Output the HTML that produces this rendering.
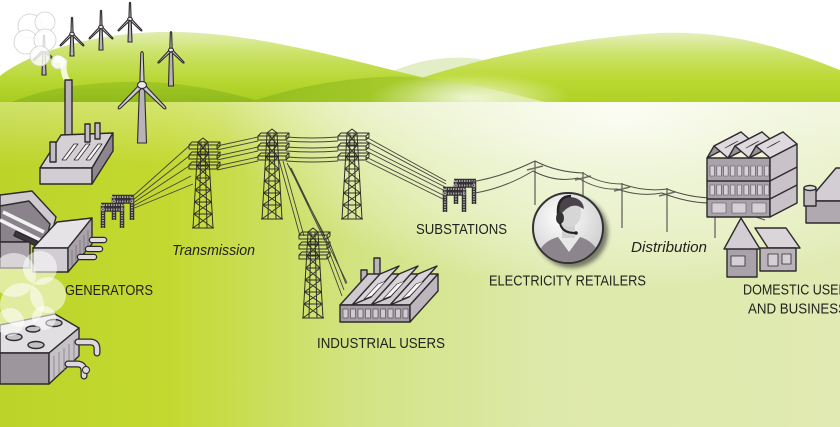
<!DOCTYPE html>
<html><head><meta charset="utf-8"><style>
html,body{margin:0;padding:0;background:#fff;width:840px;height:427px;overflow:hidden}
svg{display:block}
.lb{font-family:"Liberation Sans",Arial,sans-serif;font-size:14.5px;fill:#22221e}
.it{font-style:italic}
</style></head><body>
<svg width="840" height="427" viewBox="0 0 840 427" xmlns="http://www.w3.org/2000/svg" xmlns:xlink="http://www.w3.org/1999/xlink">
<defs>
 <linearGradient id="gnd" gradientUnits="userSpaceOnUse" x1="0" y1="0" x2="840" y2="0">
  <stop offset="0" stop-color="#bcd42a"/>
  <stop offset="0.2" stop-color="#c3d930"/>
  <stop offset="0.42" stop-color="#d2e382"/>
  <stop offset="0.65" stop-color="#dde9aa"/>
  <stop offset="1" stop-color="#e0eab2"/>
 </linearGradient>
 <radialGradient id="glow" gradientUnits="userSpaceOnUse" cx="620" cy="110" r="400" gradientTransform="matrix(1 0 0 0.45 0 60.5)">
  <stop offset="0" stop-color="#fafcf0" stop-opacity="1"/>
  <stop offset="0.45" stop-color="#f2f7e0" stop-opacity="0.75"/>
  <stop offset="1" stop-color="#ffffff" stop-opacity="0"/>
 </radialGradient>
 <linearGradient id="tf" gradientUnits="userSpaceOnUse" x1="0" y1="102" x2="0" y2="165">
  <stop offset="0" stop-color="#ffffff" stop-opacity="0.3"/>
  <stop offset="1" stop-color="#ffffff" stop-opacity="0"/>
 </linearGradient>
 <linearGradient id="hl" gradientUnits="userSpaceOnUse" x1="0" y1="30" x2="0" y2="102">
  <stop offset="0" stop-color="#e2eeb6"/>
  <stop offset="0.3" stop-color="#cde36c"/>
  <stop offset="0.7" stop-color="#b8d732"/>
  <stop offset="1" stop-color="#a8cc20"/>
 </linearGradient>
 <linearGradient id="hr" gradientUnits="userSpaceOnUse" x1="0" y1="33" x2="0" y2="102">
  <stop offset="0" stop-color="#e4efbc"/>
  <stop offset="0.3" stop-color="#cde36c"/>
  <stop offset="0.65" stop-color="#bcd934"/>
  <stop offset="1" stop-color="#afd126"/>
 </linearGradient>
 <linearGradient id="hd1" gradientUnits="userSpaceOnUse" x1="0" y1="80" x2="0" y2="102">
  <stop offset="0" stop-color="#a3c825"/>
  <stop offset="1" stop-color="#8fbb1c"/>
 </linearGradient>
 <linearGradient id="hd2" gradientUnits="userSpaceOnUse" x1="250" y1="0" x2="545" y2="0">
  <stop offset="0" stop-color="#93be1e"/>
  <stop offset="0.55" stop-color="#a8cc2c"/>
  <stop offset="1" stop-color="#d6e88e"/>
 </linearGradient>
 <radialGradient id="vg" gradientUnits="userSpaceOnUse" cx="470" cy="98" r="100" gradientTransform="matrix(1 0 0 0.25 0 73.5)">
  <stop offset="0" stop-color="#ffffff" stop-opacity="0.75"/>
  <stop offset="1" stop-color="#ffffff" stop-opacity="0"/>
 </radialGradient>
 <radialGradient id="cg" cx="0.4" cy="0.35" r="0.7">
  <stop offset="0" stop-color="#ffffff"/>
  <stop offset="1" stop-color="#cdcdcd"/>
 </radialGradient>
 <filter id="bl" x="-20%" y="-20%" width="140%" height="140%"><feGaussianBlur stdDeviation="2"/></filter>
 <clipPath id="cc"><circle cx="568" cy="228" r="34"/></clipPath>

 <g id="tw" fill="none" stroke="#2f2f28" stroke-width="1" stroke-linejoin="round">
  <path d="M-5,0 L-10,86 M5,0 L10,86 M-2,0 L-4,86 M2,0 L4,86 M-5,0 L0,-4 L5,0
  M-5,0 L5.7,12 M5,0 L-5.7,12 M-5.7,12 L6.4,24 M5.7,12 L-6.4,24 M-6.4,24 L7.1,36 M6.4,24 L-7.1,36 M-7.1,36 L7.8,48 M7.1,36 L-7.8,48 M-7.8,48 L8.5,60 M7.8,48 L-8.5,60 M-8.5,60 L9.2,72 M8.5,60 L-9.2,72 M-9.2,72 L10,86 M9.2,72 L-10,86
  M-5.7,12H5.7 M-6.4,24H6.4 M-7.1,36H7.1 M-7.8,48H7.8 M-8.5,60H8.5 M-9.2,72H9.2 M-11,86H11
  M-14,3H14V7H-14Z M-14,3L-11,0H17L14,3 M17,0V4L14,7
  M-14,13H14V17H-14Z M-14,13L-11,10H17L14,13 M17,10V14L14,17
  M-14,23H14V27H-14Z M-14,23L-11,20H17L14,23 M17,20V24L14,27"/>
 </g>

 <g id="rot" stroke="#2d2a2d" stroke-width="1.1" fill="#cdc8cd" stroke-linejoin="round">
  <path vector-effect="non-scaling-stroke" d="M-2.2,0 L-1.2,-32 Q0,-35 1.2,-32 L2.2,0 Z"/>
  <path vector-effect="non-scaling-stroke" transform="rotate(135)" d="M-2.2,0 L-1.2,-32 Q0,-35 1.2,-32 L2.2,0 Z"/>
  <path vector-effect="non-scaling-stroke" transform="rotate(225)" d="M-2.2,0 L-1.2,-32 Q0,-35 1.2,-32 L2.2,0 Z"/>
  <ellipse vector-effect="non-scaling-stroke" rx="4.5" ry="3.5" fill="#ebe9eb"/>
 </g>

 <g id="sub" fill="none">
  <path d="M11,3 H33 M11,7.5 H33 M13,3 V26 M31,3 V26" stroke="#343134" stroke-width="4.5"/>
  <path d="M11,3 H33 M11,7.5 H33 M13,3 V26 M31,3 V26" stroke="#aaa5aa" stroke-width="2" stroke-dasharray="1.3 1.2"/>
  <path d="M0,11 H23 M0,15.5 H23 M2,11 V34 M21,11 V34" stroke="#343134" stroke-width="4.5"/>
  <path d="M0,11 H23 M0,15.5 H23 M2,11 V34 M21,11 V34" stroke="#aaa5aa" stroke-width="2" stroke-dasharray="1.3 1.2"/>
 </g>
</defs>

<!-- sky & ground -->
<rect width="840" height="427" fill="#ffffff"/>
<rect y="102" width="840" height="325" fill="url(#gnd)"/>
<rect y="102" width="840" height="325" fill="url(#glow)"/>
<rect y="102" width="840" height="70" fill="url(#tf)"/>

<!-- hills -->
<path d="M385,75 C410,62 440,56 470,58 C490,60 505,66 520,72 L520,102 L385,102 Z" fill="#e3eec6"/>
<path d="M415,80 C470,62 560,38 660,33 C720,31 770,42 840,70 L840,102 L415,102 Z" fill="url(#hr)"/>
<path d="M0,76 C30,52 100,30 180,32 C250,34 320,52 400,72 C450,84 500,95 545,102 L0,102 Z" fill="url(#hl)"/>
<path d="M12,102 C35,92 70,84 120,82 C170,80 215,88 262,102 Z" fill="url(#hd1)"/>
<path d="M250,102 C285,90 330,80 380,77 C430,74 480,86 545,102 Z" fill="url(#hd2)"/>
<rect x="360" y="70" width="220" height="32" fill="url(#vg)"/>

<!-- wind turbines -->
<g stroke="#2d2a2d" stroke-width="1.1" fill="#b9b3b9">
 <polygon points="42.8,51 45.2,51 46,75 42,75"/>
 <polygon points="70.8,35 73.2,35 74,56 70,56"/>
 <polygon points="99.8,28 102.2,28 103,50 99,50"/>
 <polygon points="128.8,20 131.2,20 132,42 128,42"/>
 <polygon points="169.5,51 172.5,51 173.5,86 168.5,86"/>
 <polygon points="139.5,86 144.5,86 146.5,143 137.5,143"/>
</g>
<use xlink:href="#rot" href="#rot" transform="translate(44,50) scale(0.45)"/>
<use xlink:href="#rot" href="#rot" transform="translate(72,34) scale(0.5)"/>
<use xlink:href="#rot" href="#rot" transform="translate(101,27) scale(0.5)"/>
<use xlink:href="#rot" href="#rot" transform="translate(130,19) scale(0.5)"/>
<use xlink:href="#rot" href="#rot" transform="translate(171,50) scale(0.55)"/>
<use xlink:href="#rot" href="#rot" transform="translate(142,85) scale(1)"/>

<!-- smoke cloud top -->
<g fill="#ffffff" fill-opacity="0.82" stroke="#cfcfcf" stroke-width="0.8">
 <circle cx="30" cy="26" r="12"/><circle cx="45" cy="22" r="10"/><circle cx="26" cy="42" r="12"/>
 <circle cx="45" cy="40" r="11"/><circle cx="40" cy="56" r="10"/><circle cx="58" cy="62" r="7"/>
</g>
<path d="M68,82 Q62,72 64,62 Q60,58 56,60" stroke="#ffffff" stroke-width="6" fill="none" stroke-opacity="0.8" stroke-linecap="round"/>

<!-- top factory -->
<g stroke="#2d2a2d" stroke-width="1.4" stroke-linejoin="round">
 <rect x="65" y="80" width="7" height="70" fill="#b8b2b8"/>
 <polygon points="40,168 61,135 113,133 92,168" fill="#d4d0d4"/>
 <polygon points="40,168 92,168 92,184 40,184" fill="#d2cdd2"/>
 <polygon points="92,168 113,133 113,151 92,184" fill="#8e868e"/>
 <polygon points="62,160 74,144 78,144 66,160" fill="#f6f6f6" stroke-width="0.8"/>
 <polygon points="74,160 86,144 90,144 78,160" fill="#f6f6f6" stroke-width="0.8"/>
 <polygon points="86,160 98,144 102,144 90,160" fill="#f6f6f6" stroke-width="0.8"/>
 <rect x="50" y="142" width="6" height="20" fill="#c3bdc3"/>
 <rect x="85" y="124" width="5" height="18" fill="#c3bdc3"/>
 <rect x="95" y="123" width="5" height="16" fill="#c3bdc3"/>
</g>

<!-- big generator (upper-left) -->
<g stroke="#2d2a2d" stroke-width="1.4" stroke-linejoin="round">
 <polygon points="0,195 32,191 56,217 50,240 0,240" fill="#cfcacf"/>
 <polygon points="0,206 29,201 50,224 46,242 0,242" fill="#8b838b"/>
 <path d="M3,212 L44,232 M0,220 L40,240" stroke="#f2f2f2" stroke-width="3.5"/>
 <rect x="14" y="236" width="24" height="5" fill="#3a363a" transform="rotate(25 26 238)"/>
 <polygon points="0,242 30,242 30,268 0,268" fill="#a8a1a8"/>
 <polygon points="33,248 57,222 92,218 68,248" fill="#e6e3e6"/>
 <polygon points="33,248 68,248 68,272 33,272" fill="#d2cdd2"/>
 <polygon points="68,248 92,218 92,244 68,272" fill="#aaa3aa"/>
 <path d="M72,250 V266 M76,245 V262 M80,240 V258 M84,235 V253 M88,230 V248" stroke="#7a727a" stroke-width="0.8"/>
 <path d="M92,240 H104 M88,249 H100 M80,257 H94" stroke="#2d2a2d" stroke-width="6.5" stroke-linecap="round"/>
 <path d="M92,240 H104 M88,249 H100 M80,257 H94" stroke="#dedade" stroke-width="4" stroke-linecap="round"/>
</g>

<!-- bottom generator -->
<g stroke="#2d2a2d" stroke-width="1.4" stroke-linejoin="round">
 <polygon points="0,325 55,314 79,328 49,353 0,353" fill="#e2dfe2"/>
 <polygon points="0,353 49,353 49,384 0,384" fill="#9d969d"/>
 <polygon points="49,353 79,328 79,356 49,384" fill="#c6c1c6"/>
 <path d="M54,356 V378 M59,352 V374 M64,348 V370 M69,344 V366 M74,340 V361" stroke="#837b83" stroke-width="0.8"/>
 <ellipse cx="14" cy="337" rx="8" ry="3.5" fill="#c4bfc4"/>
 <ellipse cx="36" cy="345" rx="8" ry="3.5" fill="#c4bfc4"/>
 <ellipse cx="54" cy="323" rx="8" ry="3.5" fill="#c4bfc4"/>
 <ellipse cx="33" cy="329" rx="7" ry="3" fill="#c4bfc4"/>
 <path d="M78,342 H90 Q97,342 97,349 V353 M68,364 H77 Q84,364 84,371 V376" stroke="#2d2a2d" stroke-width="7" fill="none" stroke-linecap="round"/>
 <path d="M78,342 H90 Q97,342 97,349 V353 M68,364 H77 Q84,364 84,371 V376" stroke="#dcd8dc" stroke-width="4.5" fill="none" stroke-linecap="round"/>
 <circle cx="86" cy="370" r="3.5" fill="#dcd8dc" stroke-width="1"/>
</g>

<!-- smoke bottom-left -->
<g fill="#ffffff" fill-opacity="0.55">
 <circle cx="14" cy="275" r="22"/><circle cx="40" cy="268" r="17"/><circle cx="48" cy="295" r="18"/>
 <circle cx="22" cy="305" r="22"/><circle cx="10" cy="322" r="14"/><circle cx="44" cy="318" r="12"/>
</g>

<!-- substations -->
<use xlink:href="#sub" href="#sub" x="101" y="194"/>
<use xlink:href="#sub" href="#sub" x="443" y="178"/>

<!-- transmission wires -->
<g fill="none" stroke="#44443b" stroke-width="0.9">
 <path d="M132,197 L189,146 M133,200 L189,156 M133,203 L189,166 M133,206 L191,176 M132,209 L193,184"/>
 <path d="M217,146 L258,137 M217,150 L258,141 M217,156 L258,147 M217,160 L258,151 M217,166 L258,157 M217,170 L258,161"/>
 <path d="M286,137 Q312,139 338,137 M286,141 Q312,143 338,141 M286,147 Q312,149 338,147 M286,151 Q312,153 338,151 M286,157 Q312,159 338,157 M286,161 Q312,163 338,161"/>
 <path d="M366,137 L446,181 M366,141 L446,184 M366,147 L447,188 M366,151 L447,192 M366,157 L447,197 M366,161 L447,201"/>
 <path d="M279,160 L300,236 M283,161 L304,236 M287,163 L325,236 M289,166 L327,245 M291,168 L347,283"/>
 <path d="M327,236 L346,284 M327,246 L344,290 M327,256 L342,296"/>
</g>

<!-- towers -->
<use xlink:href="#tw" href="#tw" x="203" y="142"/>
<use xlink:href="#tw" href="#tw" x="272" y="133"/>
<use xlink:href="#tw" href="#tw" x="352" y="133"/>
<use xlink:href="#tw" href="#tw" x="313" y="232"/>

<!-- industrial factory -->
<g stroke="#2d2a2d" stroke-width="1.4" stroke-linejoin="round">
 <rect x="361" y="270" width="6" height="30" fill="#bbb5bb"/>
 <rect x="374" y="258" width="6" height="38" fill="#bbb5bb"/>
 <polygon points="340,305 410,305 438,274 368,274" fill="#cfcacf"/>
 <polygon points="352,305 371,297 399,266 380,274" fill="#d8d4d8"/>
 <polygon points="371,305 390,297 418,266 399,274" fill="#d8d4d8"/>
 <polygon points="390,305 409,297 437,266 418,274" fill="#d8d4d8"/>
 <polygon points="364,299 372,296 386,281 378,284" fill="#f7f7f7" stroke-width="0.6"/>
 <polygon points="383,299 391,296 405,281 397,284" fill="#f7f7f7" stroke-width="0.6"/>
 <polygon points="402,299 410,296 424,281 416,284" fill="#f7f7f7" stroke-width="0.6"/>
 <polygon points="340,305 410,305 410,322 340,322" fill="#a59da5"/>
 <polygon points="410,305 438,274 438,291 410,322" fill="#bdb7bd"/>
 <g fill="#d0cbd0" stroke="#5a545a" stroke-width="0.7">
  <rect x="343" y="309" width="5" height="9"/><rect x="350.5" y="309" width="5" height="9"/><rect x="358" y="309" width="5" height="9"/>
  <rect x="365.5" y="309" width="5" height="9"/><rect x="373" y="309" width="5" height="9"/><rect x="380.5" y="309" width="5" height="9"/>
  <rect x="388" y="309" width="5" height="9"/><rect x="395.5" y="309" width="5" height="9"/><rect x="403" y="309" width="5" height="9"/>
 </g>
</g>

<!-- distribution -->
<g stroke="#707068" stroke-width="1.4" fill="none">
 <path d="M535,161 V205 M583,172 V215 M622,183 V228 M667,188 V232 M715,197 V238"/>
 <path d="M527,170 L543,166 M575,180 L591,176 M614,191 L630,187 M659,196 L675,192 M707,205 L723,201" stroke-width="1.6"/>
</g>
<g stroke="#4f4f47" stroke-width="1" fill="none">
 <path d="M470,182 Q500,178 535,161 Q556,172 583,173 Q600,184 622,184 Q645,192 667,189 Q690,198 715,198 Q735,203 760,212"/>
 <path d="M475,193 Q505,188 533,171 Q556,183 578,178 Q598,190 617,189 Q640,197 662,193 Q688,203 710,203 Q735,210 765,220"/>
</g>

<!-- retailer circle -->
<circle cx="572" cy="232" r="36" fill="#2e2e2e" fill-opacity="0.6" filter="url(#bl)"/>
<circle cx="568" cy="228" r="35" fill="url(#cg)" stroke="#333" stroke-width="2"/>
<g clip-path="url(#cc)">
 <path d="M534,266 Q538,242 558,237 L580,237 Q598,242 604,266 Z" fill="#8d858d"/>
 <polygon points="558,237 569,252 580,237" fill="#e8e8e8"/>
 <rect x="562" y="224" width="13" height="14" fill="#cfcfcf"/>
 <ellipse cx="570" cy="213" rx="11" ry="14" fill="#d6d6d6"/>
 <path d="M558,216 Q555,198 570,197 Q583,198 584,209 L578,206 Q570,204 563,212 Z" fill="#4a444a"/>
 <path d="M558,214 Q557,196 571,196" stroke="#222" stroke-width="2.5" fill="none"/>
 <ellipse cx="560" cy="218" rx="4" ry="6" fill="#333"/>
 <path d="M560,223 Q562,233 575,233" stroke="#222" stroke-width="2" fill="none"/>
 <circle cx="576" cy="233" r="1.8" fill="#222"/>
</g>

<!-- apartment block -->
<g stroke="#2d2a2d" stroke-width="1.4" stroke-linejoin="round">
 <polygon points="707,158 770,158 770,217 707,217" fill="#aaa2aa"/>
 <polygon points="770,158 797,144 797,203 770,217" fill="#c9c3c9"/>
 <polygon points="707,158 714,146 741,132 734,144" fill="#9a929a"/>
 <polygon points="714,146 728,158 755,144 741,132" fill="#dedade"/>
 <polygon points="728,158 735,146 762,132 755,144" fill="#9a929a"/>
 <polygon points="735,146 749,158 776,144 762,132" fill="#dedade"/>
 <polygon points="749,158 756,146 783,132 776,144" fill="#9a929a"/>
 <polygon points="756,146 770,158 797,144 783,132" fill="#dedade"/>
 <polygon points="725,148 731,145 738,141 732,144" fill="#fafafa" stroke-width="0.6"/>
 <polygon points="746,148 752,145 759,141 753,144" fill="#fafafa" stroke-width="0.6"/>
 <polygon points="767,148 773,145 780,141 774,144" fill="#fafafa" stroke-width="0.6"/>
 <path d="M707,181 H770 L797,167 M707,199 H770 L797,185" fill="none"/>
 <g fill="#d5d0d5" stroke="#5a545a" stroke-width="0.6">
  <rect x="710" y="166" width="4.5" height="10"/><rect x="716.8" y="166" width="4.5" height="10"/><rect x="723.6" y="166" width="4.5" height="10"/><rect x="730.4" y="166" width="4.5" height="10"/><rect x="737.2" y="166" width="4.5" height="10"/><rect x="744" y="166" width="4.5" height="10"/><rect x="750.8" y="166" width="4.5" height="10"/><rect x="757.6" y="166" width="4.5" height="10"/><rect x="764.4" y="166" width="4.5" height="10"/>
  <rect x="710" y="185" width="4.5" height="10"/><rect x="716.8" y="185" width="4.5" height="10"/><rect x="723.6" y="185" width="4.5" height="10"/><rect x="730.4" y="185" width="4.5" height="10"/><rect x="737.2" y="185" width="4.5" height="10"/><rect x="744" y="185" width="4.5" height="10"/><rect x="750.8" y="185" width="4.5" height="10"/><rect x="757.6" y="185" width="4.5" height="10"/><rect x="764.4" y="185" width="4.5" height="10"/>
  <rect x="712" y="203" width="14" height="10"/><rect x="732" y="203" width="14" height="10"/><rect x="752" y="203" width="14" height="10"/>
 </g>
</g>

<!-- house -->
<g stroke="#2d2a2d" stroke-width="1.4" stroke-linejoin="round">
 <polygon points="755,228 786,228 800,248 768,248" fill="#d9d5d9"/>
 <polygon points="760,248 796,248 796,271 760,271" fill="#bab4ba"/>
 <polygon points="727,247 757,247 757,277 727,277" fill="#aaa2aa"/>
 <polygon points="724,249 741,218 760,249" fill="#d3ced3"/>
 <rect x="731" y="256" width="14" height="10" fill="#d5d0d5" stroke-width="0.8"/>
 <rect x="768" y="254" width="10" height="12" fill="#d5d0d5" stroke-width="0.8"/>
 <rect x="782" y="254" width="9" height="10" fill="#d5d0d5" stroke-width="0.8"/>
</g>

<!-- partial right house -->
<g stroke="#2d2a2d" stroke-width="1.4" stroke-linejoin="round">
 <polygon points="808,201 836,168 842,168 842,201" fill="#d3ced3"/>
 <polygon points="806,201 842,201 842,223 806,223" fill="#b0a9b0"/>
 <rect x="804" y="188" width="12" height="18" fill="#c0bac0"/>
 <ellipse cx="810" cy="188" rx="6" ry="2.5" fill="#dedade"/>
</g>

<!-- labels -->
<text class="lb" x="65" y="295" textLength="88" lengthAdjust="spacingAndGlyphs">GENERATORS</text>
<text class="lb it" x="172" y="255" textLength="83" lengthAdjust="spacingAndGlyphs">Transmission</text>
<text class="lb" x="416" y="234" textLength="91" lengthAdjust="spacingAndGlyphs">SUBSTATIONS</text>
<text class="lb" x="317" y="348" textLength="128" lengthAdjust="spacingAndGlyphs">INDUSTRIAL USERS</text>
<text class="lb" x="489" y="285.5" textLength="157" lengthAdjust="spacingAndGlyphs">ELECTRICITY RETAILERS</text>
<text class="lb it" x="631" y="252" textLength="76" lengthAdjust="spacingAndGlyphs">Distribution</text>
<text class="lb" x="743" y="294.5" textLength="113" lengthAdjust="spacingAndGlyphs">DOMESTIC USERS</text>
<text class="lb" x="748" y="313.5" textLength="99" lengthAdjust="spacingAndGlyphs">AND BUSINESS</text>
</svg>
</body></html>
